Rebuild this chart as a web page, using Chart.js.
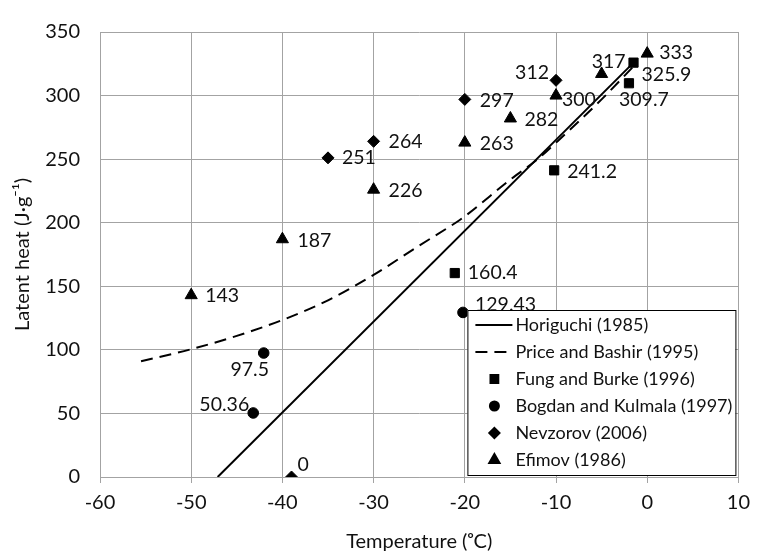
<!DOCTYPE html>
<html>
<head>
<meta charset="utf-8">
<script src="https://cdn.jsdelivr.net/npm/chart.js@4.4.1/dist/chart.umd.min.js"></script>
<style>
  html, body { margin: 0; padding: 0; background: #ffffff; }
  #wrap { width: 758px; height: 554px; }
</style>
</head>
<body>
<div id="wrap"><canvas id="c" width="758" height="554"></canvas></div>
<script>
// Axis ticks
const xTicks = [-60, -50, -40, -30, -20, -10, 0, 10];
const yTicks = [0, 50, 100, 150, 200, 250, 300, 350];

// Horiguchi (1985) – straight relation
const horiguchiT = [-47.1, -1.5];
const horiguchiL = [0, 325.9];

// Price and Bashir (1995) – curved relation
const priceT = [-55.5, -50, -45, -40, -35, -30, -25, -21, -20, -15, -12, -10, -5, -1.5];
const priceL = [91, 100.5, 111, 123.5, 139, 159, 182, 200, 205, 234, 250, 263, 297, 323];

// Fung and Burke (1996)
const fungT = [-21.1, -10.2, -2, -1.5];
const fungL = [160.4, 241.2, 309.7, 325.9];

// Bogdan and Kulmala (1997)
const bogdanT = [-43.2, -42.05, -20.2];
const bogdanL = [50.36, 97.5, 129.43];

// Nevzorov (2006)
const nevzorovT = [-39, -35, -30, -20, -10];
const nevzorovL = [0, 251, 264, 297, 312];

// Efimov (1986)
const efimovT = [-50, -40, -30, -20, -15, -10, -5, 0];
const efimovL = [143, 187, 226, 263, 282, 300, 317, 333];

const toPoints = (xs, ys) => xs.map((x, i) => ({ x: x, y: ys[i] }));

// Where each value label sits relative to its marker: [dx, dy, align]
const labelPlacement = {
  fung:     [[13, 0, 'left'], [13, 1, 'left'], [-10, 16, 'left'], [8, 12, 'left']],
  bogdan:   [[-4, -8, 'right'], [-14, 17, 'center'], [12, -8, 'left']],
  nevzorov: [[6, -12, 'left'], [14, 0, 'left'], [15, 0, 'left'], [15, 1, 'left'], [-7, -8, 'right']],
  efimov:   [[14, 1, 'left'], [15, 1, 'left'], [15, 1, 'left'], [15, 1, 'left'], [14, 1, 'left'],
             [6, 4, 'left'], [7, -12, 'center'], [12, -1, 'left']]
};

const FONT = 'Lato, "Liberation Sans", sans-serif';
const TEXT = '#111111';
const GRID = '#a3a3a3';

const valueLabels = {
  id: 'valueLabels',
  afterDatasetsDraw(chart) {
    const ctx = chart.ctx;
    ctx.save();
    ctx.font = '19.5px ' + FONT;
    ctx.fillStyle = TEXT;
    ctx.textBaseline = 'middle';
    chart.data.datasets.forEach((ds, di) => {
      const place = labelPlacement[ds.key];
      if (!place) return;
      const meta = chart.getDatasetMeta(di);
      meta.data.forEach((pt, i) => {
        const [dx, dy, align] = place[i];
        ctx.textAlign = align;
        ctx.fillText(String(ds.data[i].y), pt.x + dx, pt.y + dy);
      });
    });
    ctx.restore();
  }
};

const boxLegend = {
  id: 'boxLegend',
  afterDraw(chart) {
    const ctx = chart.ctx;
    const area = chart.chartArea;
    const w = 268, h = 165;
    const x0 = area.right - 3 - w, y0 = area.bottom - 2 - h;
    ctx.save();
    ctx.fillStyle = '#ffffff';
    ctx.fillRect(x0, y0, w, h);
    ctx.strokeStyle = '#000000';
    ctx.lineWidth = 1;
    ctx.strokeRect(x0 + 0.5, y0 + 0.5, w, h);
    ctx.font = '18px ' + FONT;
    ctx.textBaseline = 'middle';
    ctx.textAlign = 'left';
    chart.data.datasets.forEach((ds, i) => {
      const cy = y0 + 15 + i * 27;
      if (ds.showLine) {
        ctx.strokeStyle = '#000';
        ctx.lineWidth = 2;
        ctx.setLineDash(ds.borderDash || []);
        ctx.beginPath();
        ctx.moveTo(x0 + 8, cy);
        ctx.lineTo(x0 + 45, cy);
        ctx.stroke();
        ctx.setLineDash([]);
      } else {
        ctx.fillStyle = '#000';
        ctx.strokeStyle = '#000';
        Chart.helpers.drawPoint(ctx, {
          pointStyle: ds.pointStyle, radius: ds.pointRadius * 0.85, rotation: 0, borderWidth: 1
        }, x0 + 27, cy);
      }
      ctx.fillStyle = TEXT;
      ctx.fillText(ds.label, x0 + 48, cy);
    });
    ctx.restore();
  }
};

new Chart(document.getElementById('c'), {
  type: 'scatter',
  data: {
    datasets: [
      { key: 'horiguchi', label: 'Horiguchi (1985)', data: toPoints(horiguchiT, horiguchiL),
        showLine: true, borderColor: '#000', borderWidth: 2, pointRadius: 0, fill: false },
      { key: 'price', label: 'Price and Bashir (1995)', data: toPoints(priceT, priceL),
        showLine: true, borderColor: '#000', borderWidth: 2, borderDash: [12, 7], pointRadius: 0,
        cubicInterpolationMode: 'monotone', fill: false },
      { key: 'fung', label: 'Fung and Burke (1996)', data: toPoints(fungT, fungL),
        pointStyle: 'rect', pointRadius: 6.5, backgroundColor: '#000', borderColor: '#000', borderWidth: 1 },
      { key: 'bogdan', label: 'Bogdan and Kulmala (1997)', data: toPoints(bogdanT, bogdanL),
        pointStyle: 'circle', pointRadius: 5.3, backgroundColor: '#000', borderColor: '#000', borderWidth: 1 },
      { key: 'nevzorov', label: 'Nevzorov (2006)', data: toPoints(nevzorovT, nevzorovL),
        pointStyle: 'rectRot', pointRadius: 6, backgroundColor: '#000', borderColor: '#000', borderWidth: 1 },
      { key: 'efimov', label: 'Efimov (1986)', data: toPoints(efimovT, efimovL),
        pointStyle: 'triangle', pointRadius: 7, backgroundColor: '#000', borderColor: '#000', borderWidth: 1 }
    ]
  },
  options: {
    responsive: false,
    animation: false,
    devicePixelRatio: 1,
    layout: { padding: { top: 22, right: 12, bottom: 0, left: 0 } },
    plugins: { legend: { display: false }, tooltip: { enabled: false } },
    scales: {
      x: {
        type: 'linear',
        min: xTicks[0], max: xTicks[xTicks.length - 1],
        afterBuildTicks: (s) => { s.ticks = xTicks.map(v => ({ value: v })); },
        ticks: { font: { family: FONT, size: 20 }, color: TEXT, padding: 8, maxRotation: 0 },
        grid: { color: GRID, lineWidth: 1, tickLength: 6, drawTicks: true },
        border: { color: GRID },
        title: { display: true, text: 'Temperature (ᵒC)', color: TEXT,
                 font: { family: FONT, size: 20 }, padding: { top: 0, bottom: 0 } },
        afterFit: (s) => { s.height = 77; }
      },
      y: {
        type: 'linear',
        min: yTicks[0], max: yTicks[yTicks.length - 1],
        afterBuildTicks: (s) => { s.ticks = yTicks.map(v => ({ value: v })); },
        ticks: { font: { family: FONT, size: 20 }, color: TEXT, padding: 20 },
        grid: { color: GRID, lineWidth: 1, drawTicks: false },
        border: { color: GRID },
        title: { display: true, text: 'Latent heat (J·g⁻¹)', color: TEXT,
                 font: { family: FONT, size: 20 }, padding: { top: 11, bottom: 0 } },
        afterFit: (s) => { s.width = 100; }
      }
    }
  },
  plugins: [valueLabels, boxLegend]
});
</script>
</body>
</html>
